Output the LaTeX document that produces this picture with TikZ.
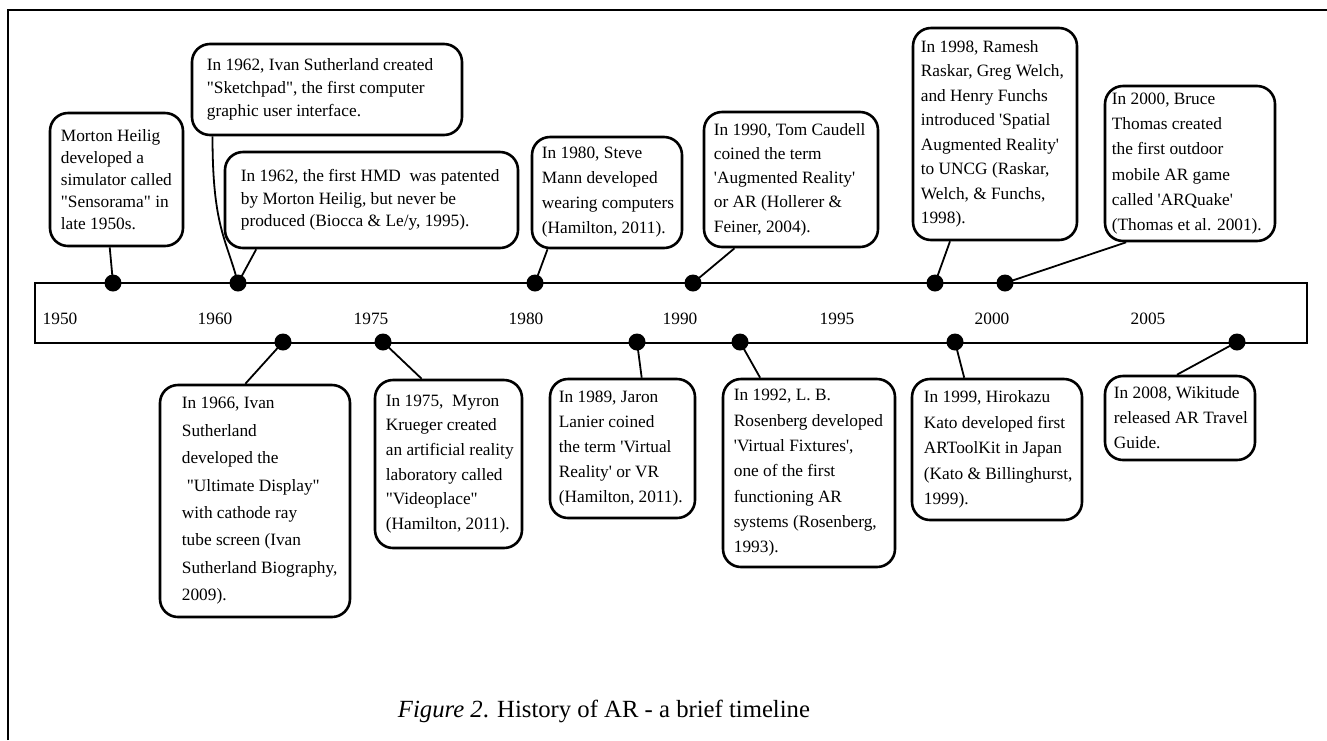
\documentclass[tikz,border=0pt]{standalone}
\usepackage{fontspec}
\setmainfont{Liberation Serif}[Ligatures=TeXOff]
\usetikzlibrary{calc}

% one event: a rounded frame (name) and its left-aligned text (name-text)
% #1 name, #2 x1, #3 y1, #4 x2, #5 y2, #6 left padding, #7 line spacing, #8 text
\newcommand\evbox[8]{%
  \node[evframe, minimum width={#4-#2}, minimum height={#5-#3}] (#1)
    at ({(#2+#4)/2},{(#3+#5)/2}) {};
  \node[evtext, font=\fontsize{17.3}{#7}\selectfont] (#1-text)
    at ([xshift=#6]#1.west) {#8};
}

\begin{document}
\begin{tikzpicture}[x=1pt,y=-1pt,
  evframe/.style={draw, line width=2.6pt, rounded corners=18pt, inner sep=0pt},
  evtext/.style={anchor=west, inner sep=0pt, align=left},
  link/.style={line width=1.8pt},
  tdot/.style={circle, fill, inner sep=0pt, minimum size=17pt},
  year/.style={anchor=base, inner sep=0pt, font=\fontsize{17.3}{20}\selectfont},
]
\useasboundingbox (0,0) rectangle (1327,740);

% page frame
\draw[line width=1.8pt] (8,740) -- (8,10) -- (1327,10);

% time axis
\node[draw, line width=2.6pt, minimum width=1272, minimum height=60, inner sep=0pt]
  (axis) at (671,313) {};
\node[year] (y1950) at (60,324) {1950};
\node[year] (y1960) at (215,324) {1960};
\node[year] (y1975) at (371,324) {1975};
\node[year] (y1980) at (526,324) {1980};
\node[year] (y1990) at (680,324) {1990};
\node[year] (y1995) at (837,324) {1995};
\node[year] (y2000) at (992,324) {2000};
\node[year] (y2005) at (1148,324) {2005};

% markers on the upper edge
\node[tdot] (d-morton)  at (113,283) {};
\node[tdot] (d-sketch)  at (238,283) {};
\node[tdot] (d-mann)    at (535,283) {};
\node[tdot] (d-caudell) at (693,283) {};
\node[tdot] (d-raskar)  at (935,283) {};
\node[tdot] (d-thomas)  at (1005,283) {};
% markers on the lower edge
\node[tdot] (d-ultimate)  at (283,342) {};
\node[tdot] (d-krueger)   at (383,342) {};
\node[tdot] (d-lanier)    at (637,342) {};
\node[tdot] (d-rosenberg) at (740,342) {};
\node[tdot] (d-kato)      at (955,342) {};
\node[tdot] (d-wikitude)  at (1237,342) {};

% events above the axis
\evbox{morton}{50}{113}{183}{246}{12}{22}{Morton Heilig\\developed a\\simulator called\\"Sensorama" in\\late 1950s.}
\evbox{sketch}{192}{44}{462}{135}{16}{23.3}{In 1962, Ivan Sutherland created\\"Sketchpad", the first computer\\graphic user interface.}
\evbox{hmd}{225}{152}{518}{248}{17}{22.5}{In 1962, the first HMD\ \ was patented\\by Morton Heilig, but never be\\produced (Biocca \& Le/y, 1995).}
\evbox{mann}{532}{137}{682}{248}{11}{25}{In 1980, Steve\\Mann developed\\wearing computers\\(Hamilton, 2011).}
\evbox{caudell}{704}{112}{878}{247}{11}{24.2}{In 1990, Tom Caudell\\coined the term\\'Augmented Reality'\\or AR (Hollerer \&\\Feiner, 2004).}
\evbox{raskar}{913}{28}{1077}{240}{9}{24.5}{In 1998, Ramesh\\Raskar, Greg Welch,\\and Henry Funchs\\introduced 'Spatial\\Augmented Reality'\\to UNCG (Raskar,\\Welch, \& Funchs,\\1998).}
\evbox{thomas}{1105}{86}{1275}{241}{8}{25.3}{In 2000, Bruce\\Thomas created\\the first outdoor\\mobile AR game\\called 'ARQuake'\\(Thomas et al. 2001).}

% events below the axis
\evbox{ultimate}{160}{385}{350}{617}{23}{27.4}{In 1966, Ivan\\Sutherland\\developed the\\\hspace*{5pt}"Ultimate Display"\\with cathode ray\\tube screen (Ivan\\Sutherland Biography,\\2009).}
\evbox{krueger}{375}{380}{522}{548}{12}{24.7}{In 1975,\ \ Myron\\Krueger created\\an artificial reality\\laboratory called\\"Videoplace"\\(Hamilton, 2011).}
\evbox{lanier}{550}{379}{695}{518}{10}{25}{In 1989, Jaron\\Lanier coined\\the term 'Virtual\\Reality' or VR\\(Hamilton, 2011).}
\evbox{rosenberg}{723}{379}{895}{567}{12}{25.3}{In 1992, L. B.\\Rosenberg developed\\'Virtual Fixtures',\\one of the first\\functioning AR\\systems (Rosenberg,\\1993).}
\evbox{kato}{912}{379}{1082}{520}{13}{25.4}{In 1999, Hirokazu\\Kato developed first\\ARToolKit in Japan\\(Kato \& Billinghurst,\\1999).}
\evbox{wikitude}{1105}{376}{1255}{460}{10}{25}{In 2008, Wikitude\\released AR Travel\\Guide.}

% leaders from the frames to the markers
\draw[link] ($(morton.south west)!0.45!(morton.south east)$) -- (d-morton.center);
\draw[link] ($(sketch.south west)!0.08!(sketch.south east)$)
  .. controls +(0,90) and +(-12,-45) .. (d-sketch.center);
\draw[link] ($(hmd.south west)!0.11!(hmd.south east)$) -- (d-sketch.center);
\draw[link] ($(mann.south west)!0.11!(mann.south east)$) -- (d-mann.center);
\draw[link] ($(caudell.south west)!0.18!(caudell.south east)$) -- (d-caudell.center);
\draw[link] ($(raskar.south west)!0.23!(raskar.south east)$) -- (d-raskar.center);
\draw[link] ($(thomas.south west)!0.13!(thomas.south east)$) -- (d-thomas.center);
\draw[link] (d-ultimate.center) -- ($(ultimate.north west)!0.45!(ultimate.north east)$);
\draw[link] (d-krueger.center) -- ($(krueger.north west)!0.32!(krueger.north east)$);
\draw[link] (d-lanier.center) -- ($(lanier.north west)!0.63!(lanier.north east)$);
\draw[link] (d-rosenberg.center) -- ($(rosenberg.north west)!0.22!(rosenberg.north east)$);
\draw[link] (d-kato.center) -- ($(kato.north west)!0.31!(kato.north east)$);
\draw[link] (d-wikitude.center) -- ($(wikitude.north west)!0.48!(wikitude.north east)$);

% caption
\node[anchor=base, inner sep=0pt, font=\fontsize{24.7}{30}\selectfont] (caption)
  at (604,717) {\textit{Figure 2}. History of AR - a brief timeline};
\end{tikzpicture}
\end{document}
